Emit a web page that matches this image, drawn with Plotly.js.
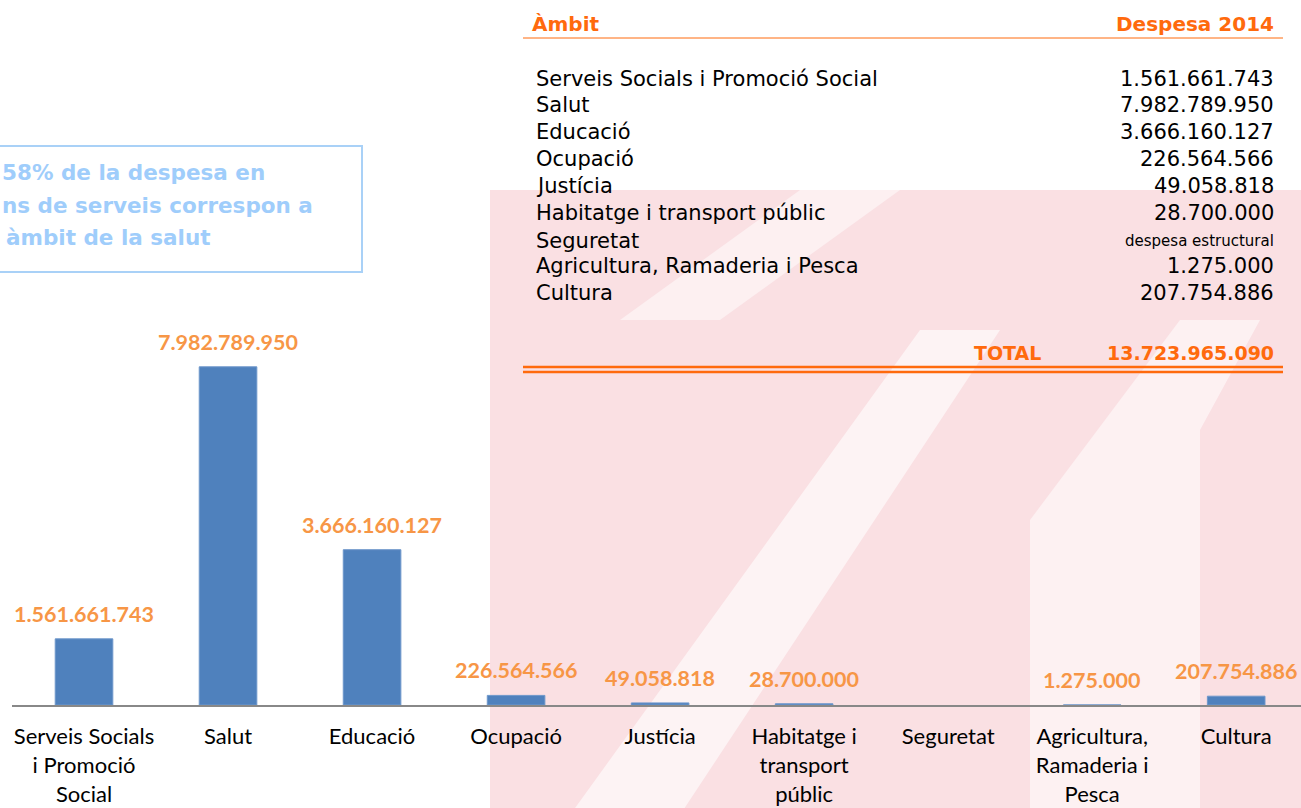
<!DOCTYPE html>
<html>
<head>
<meta charset="utf-8">
<script src="https://cdn.plot.ly/plotly-3.0.1.min.js"></script>
<style>
  html, body { margin: 0; padding: 0; background: #fff; }
  #chart { width: 1301px; height: 808px; }
</style>
</head>
<body>
<div id="chart"></div>
<script>
// bar chart data
const categories = ['Serveis Socials<br>i Promoció<br>Social', 'Salut', 'Educació', 'Ocupació', 'Justícia',
  'Habitatge i<br>transport<br>públic', 'Seguretat', 'Agricultura,<br>Ramaderia i<br>Pesca', 'Cultura'];
const values = [1561661743, 7982789950, 3666160127, 226564566, 49058818, 28700000, null, 1275000, 207754886];
const valueLabels = ['1.561.661.743', '7.982.789.950', '3.666.160.127', '226.564.566', '49.058.818',
  '28.700.000', '', '1.275.000', '207.754.886'];

// table data
const tableNames = ['Serveis Socials i Promoció Social', 'Salut', 'Educació', 'Ocupació', 'Justícia',
  'Habitatge i transport públic', 'Seguretat', 'Agricultura, Ramaderia i Pesca', 'Cultura'];
const tableValues = ['1.561.661.743', '7.982.789.950', '3.666.160.127', '226.564.566', '49.058.818',
  '28.700.000', 'despesa estructural', '1.275.000', '207.754.886'];
const tableHeader = ['Àmbit', 'Despesa 2014'];
const totalLabel = 'TOTAL';
const totalValue = '13.723.965.090';

// callout text (cut off at left in the original)
const calloutLines = ['58% de la despesa en', 'ns de serveis correspon a', 'àmbit de la salut'];

// pixel -> paper helpers (plot area: x 12..1301, y 300..705)
const L = 12, R = 1301, T = 300, B = 705;
const px = x => (x - L) / (R - L);
const py = y => (B - y) / (B - T);

const orange = '#FF6A0D';
const labelOrange = '#F79646';

let annotations = [];
let shapes = [];

// watermark (rough, faint)
const wm = (path, fill) => shapes.push({type: 'path', xref: 'paper', yref: 'paper', layer: 'below',
  line: {width: 0}, fillcolor: fill, path: path});
shapes.push({type: 'rect', xref: 'paper', yref: 'paper', x0: px(490), x1: px(1310), y0: py(190), y1: py(815),
  fillcolor: '#FAE0E3', line: {width: 0}, layer: 'below'});
wm(`M ${px(570)} ${py(815)} L ${px(680)} ${py(815)} L ${px(1000)} ${py(330)} L ${px(920)} ${py(330)} Z`, 'rgba(255,255,255,0.6)');
wm(`M ${px(1030)} ${py(815)} L ${px(1200)} ${py(815)} L ${px(1200)} ${py(430)} L ${px(1260)} ${py(320)} L ${px(1180)} ${py(320)} L ${px(1030)} ${py(520)} Z`, 'rgba(255,255,255,0.55)');
wm(`M ${px(620)} ${py(320)} L ${px(720)} ${py(320)} L ${px(900)} ${py(190)} L ${px(800)} ${py(190)} Z`, 'rgba(255,255,255,0.5)');

// callout box
shapes.push({type: 'rect', xref: 'paper', yref: 'paper', x0: px(-5), x1: px(362), y0: py(146), y1: py(272),
  fillcolor: 'rgba(255,255,255,0.9)', line: {color: '#A9D1F7', width: 2}});
const calloutLeft = [0, 0, 4];
const calloutY = [172, 205, 237];
calloutLines.forEach((t, i) => annotations.push({
  xref: 'paper', yref: 'paper', x: px(calloutLeft[i]), y: py(calloutY[i]), xanchor: 'left', yanchor: 'middle',
  text: '<b>' + t + '</b>', showarrow: false, font: {family: 'DejaVu Sans', size: 21.5, color: '#9FCDFB'}
}));

// table header
annotations.push({xref: 'paper', yref: 'paper', x: px(530), y: py(24), xanchor: 'left', yanchor: 'middle',
  text: '<b>' + tableHeader[0] + '</b>', showarrow: false, font: {family: 'DejaVu Sans', size: 20, color: orange}});
annotations.push({xref: 'paper', yref: 'paper', x: px(1276), y: py(24), xanchor: 'right', yanchor: 'middle',
  text: '<b>' + tableHeader[1] + '</b>', showarrow: false, font: {family: 'DejaVu Sans', size: 20, color: orange}});
shapes.push({type: 'line', xref: 'paper', yref: 'paper', x0: px(523), x1: px(1283), y0: py(38), y1: py(38),
  line: {color: orange, width: 1}});

// table rows
const rowY = [79, 105, 132, 159, 186, 213, 241, 266, 293];
tableNames.forEach((name, i) => {
  annotations.push({xref: 'paper', yref: 'paper', x: px(534), y: py(rowY[i]), xanchor: 'left', yanchor: 'middle',
    text: name, showarrow: false, font: {family: 'DejaVu Sans', size: 21, color: '#000'}});
  const small = tableValues[i] === 'despesa estructural';
  annotations.push({xref: 'paper', yref: 'paper', x: px(1276), y: py(rowY[i]), xanchor: 'right', yanchor: 'middle',
    text: tableValues[i], showarrow: false,
    font: {family: 'DejaVu Sans', size: small ? 15 : 21, color: '#000'}});
});

// total
annotations.push({xref: 'paper', yref: 'paper', x: px(1043), y: py(353), xanchor: 'right', yanchor: 'middle',
  text: '<b>' + totalLabel + '</b>', showarrow: false, font: {family: 'DejaVu Sans', size: 19, color: orange}});
annotations.push({xref: 'paper', yref: 'paper', x: px(1276), y: py(353), xanchor: 'right', yanchor: 'middle',
  text: '<b>' + totalValue + '</b>', showarrow: false, font: {family: 'DejaVu Sans', size: 19, color: orange}});
[367, 372].forEach(y => shapes.push({type: 'line', xref: 'paper', yref: 'paper', x0: px(523), x1: px(1283),
  y0: py(y), y1: py(y), line: {color: orange, width: 2.5}}));

// value labels above bars
values.forEach((v, i) => {
  if (v === null) return;
  annotations.push({x: categories[i], y: v, xref: 'x', yref: 'y', yanchor: 'middle', yshift: 25,
    text: '<b>' + valueLabels[i] + '</b>', showarrow: false,
    font: {family: 'Lato', size: 21.5, color: labelOrange}});
});

const trace = {
  type: 'bar', x: categories, y: values,
  marker: {color: '#4F81BD', line: {color: '#6E97CB', width: 1}},
  hoverinfo: 'skip'
};

const layout = {
  width: 1301, height: 808,
  margin: {l: L, r: 1301 - R, t: T, b: 808 - B},
  paper_bgcolor: 'rgba(0,0,0,0)', plot_bgcolor: 'rgba(0,0,0,0)',
  showlegend: false,
  bargap: 0.6,
  xaxis: {
    type: 'category', range: [-0.5, 8.45], fixedrange: true,
    showline: true, linecolor: '#888888', linewidth: 2, ticks: '', showgrid: false,
    tickfont: {family: 'Lato', size: 22, color: '#000'}, ticklabelstandoff: 11
  },
  yaxis: {range: [0, 9.56e9], visible: false, fixedrange: true},
  shapes: shapes,
  annotations: annotations
};

Plotly.newPlot('chart', [trace], layout, {displayModeBar: false, staticPlot: true});
</script>
</body>
</html>
